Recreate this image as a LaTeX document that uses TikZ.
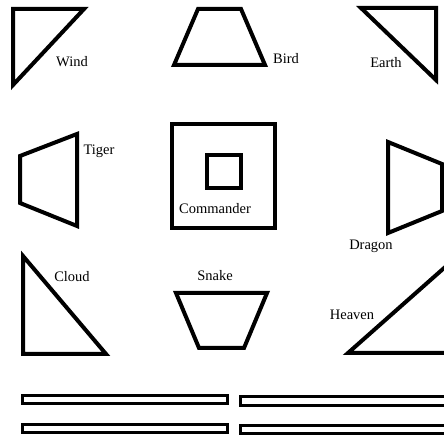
\documentclass[tikz,border=0pt]{standalone}
\usepackage{fontspec}
\setmainfont{Liberation Serif}
\begin{document}
\begin{tikzpicture}[x=1pt, y=1pt]
	\tikzset{
		formation/.style={line width=4pt, line join=miter, miter limit=4},
		rank/.style={line width=3pt},
		unitname/.style={font=\fontsize{14.5}{16}\selectfont, inner sep=0pt}
	}
	\useasboundingbox (0,0) rectangle (444,435);
	
	% formations (y measured upwards from the bottom edge)
	\draw [formation] (13,426) -- (84,426) -- (13,350) -- cycle;
	\draw [formation] (198,426) -- (241,426) -- (265,370) -- (174,370) -- cycle;
	\draw [formation] (361,427) -- (436,427) -- (436,355) -- cycle;
	\draw [formation] (77,301) -- (20,279) -- (20,232) -- (77,209) -- cycle;
	\draw [formation] (172,311) rectangle (275,207);
	\draw [formation] (207,280) rectangle (241,247);
	\draw [formation] (388,293) -- (442,271) -- (442,224) -- (388,202) -- cycle;
	\draw [formation] (23,179) -- (23,81) -- (106,81) -- cycle;
	\draw [formation] (176,142) -- (267,142) -- (244,87) -- (199,87) -- cycle;
	\draw [formation] (348,82) -- (452,174) -- (452,82) -- cycle;
	
	\foreach \x/\y/\name in {
		72/373/Wind,
		286/376/Bird,
		386/372/Earth,
		99/284/Tiger,
		215/226/Commander,
		371/189/Dragon,
		72/158/Cloud,
		215/159/Snake,
		352/120/Heaven
	}
	{
		\node [unitname] (\name) at (\x,\y) {\name};
	}
	
	% ranks
	\foreach \x/\y/\w in {
		22/35.5/205,
		240/34/210,
		22/6.5/205,
		240/5.5/210
	}
	{
		\draw [rank] (\x,\y-4.2) rectangle (\x+\w,\y+4.2);
	}
\end{tikzpicture}
\end{document}
